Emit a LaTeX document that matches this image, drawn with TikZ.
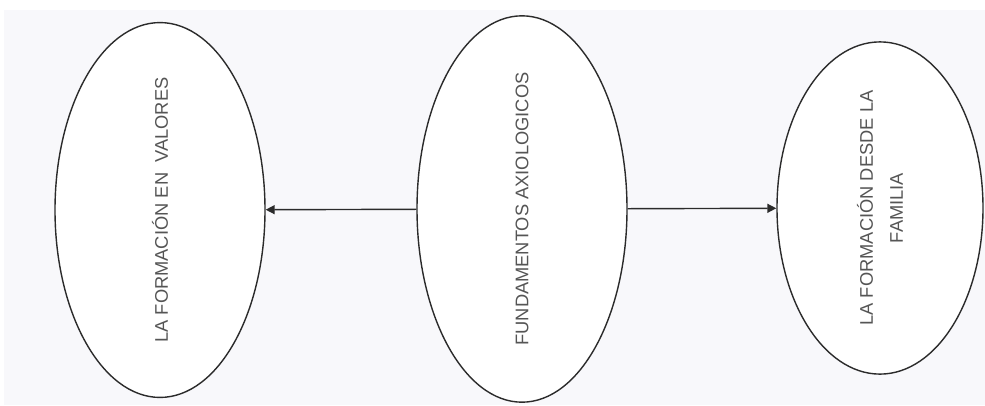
\documentclass[tikz,border=0pt]{standalone}
\usepackage{fontspec}
\newfontfamily\diagfont{Liberation Sans}
\usetikzlibrary{positioning, arrows.meta, shapes.geometric}
\definecolor{Dark}{HTML}{2B2B2B}
\definecolor{Texto}{HTML}{555555}
\definecolor{Fondo}{HTML}{F8F8FB}
\definecolor{White}{HTML}{FFFFFF}
\tikzset{
    ovalnode/.style={ellipse, draw=Dark, line width=1.4pt, fill=White, rotate=90, inner sep=0pt,
        minimum width=328pt, minimum height=210pt, align=center, text=Texto,
        font=\diagfont\fontsize{18.3}{30}\selectfont},
    arrow/.style={-{Triangle[length=9pt, width=9pt]}, line width=1.4pt, color=Dark},
}
\begin{document}
\begin{tikzpicture}[x=1pt, y=-1pt]
            % Fondo
            \fill[White] (0,0) rectangle (985,405);
            \fill[Fondo] (4,10) rectangle (985,405);
            \useasboundingbox (0,0) rectangle (985,405);

            % Elipses
            \node[ovalnode] (centro) at (522,209) {FUNDAMENTOS AXIOLOGICOS};
            \node[ovalnode] (valores) at (160,210) {LA FORMACIÓN EN \ VALORES};
            \node[ovalnode, minimum width=330pt, minimum height=206pt] (familia) at (880,208) {LA FORMACIÓN DESDE LA\\FAMILIA};

            % Flechas
            \draw[arrow] (centro) -- (valores);
            \draw[arrow] (centro) -- (familia);
        \end{tikzpicture}
\end{document}
